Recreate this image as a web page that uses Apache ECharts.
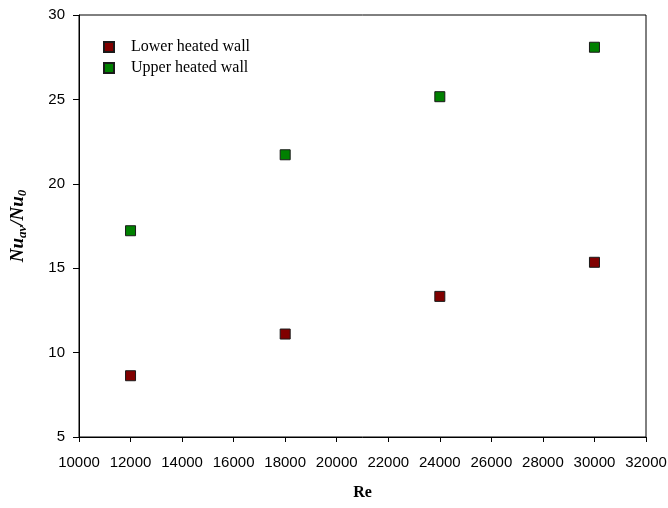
<!DOCTYPE html>
<html>
<head>
<meta charset="utf-8">
<script src="https://cdn.jsdelivr.net/npm/echarts@6/dist/echarts.min.js"></script>
<style>
  html, body { margin: 0; padding: 0; background: #fff; }
  #chart { width: 668px; height: 508px; }
</style>
</head>
<body>
<div id="chart"></div>
<script>
// Reynolds numbers tested
const reValues = [12000, 18000, 24000, 30000];
// Average Nusselt ratio Nu_av/Nu_0 for each heating case
const lowerHeated = [8.63, 11.1, 13.33, 15.35];
const upperHeated = [17.22, 21.72, 25.16, 28.09];
const seriesNames = ['Lower heated wall', 'Upper heated wall'];
const seriesColors = ['#800000', '#008000'];

const chart = echarts.init(document.getElementById('chart'));

const toPoints = ys => reValues.map((x, i) => [x, ys[i]]);
const tickFont = { fontFamily: 'Liberation Sans, Arial, sans-serif', fontSize: 15, color: '#000' };

chart.setOption({
  animation: false,
  backgroundColor: '#fff',
  grid: {
    left: 79, right: 22, top: 15, bottom: 71,
    outerBoundsMode: 'none', containLabel: false,
    show: true, borderColor: '#000', borderWidth: 1
  },
  legend: {
    left: 98, top: 34, orient: 'vertical', itemGap: 5,
    itemWidth: 10, itemHeight: 10, icon: 'rect',
    textStyle: { fontFamily: 'Liberation Serif, Times New Roman, serif', fontSize: 16, color: '#000', padding: [0, 0, 0, 12] },
    data: seriesNames
  },
  xAxis: {
    type: 'value', min: 10000, max: 32000, interval: 2000,
    axisLine: { show: true, lineStyle: { color: '#000', width: 1 } },
    axisTick: { show: true, length: 5, lineStyle: { color: '#000' } },
    axisLabel: Object.assign({ margin: 18, formatter: v => String(v) }, tickFont),
    splitLine: { show: false },
    name: 'Re', nameLocation: 'middle', nameGap: 48,
    nameTextStyle: { fontFamily: 'Liberation Serif, Times New Roman, serif', fontSize: 16, fontWeight: 'bold', color: '#000' }
  },
  yAxis: {
    type: 'value', min: 5, max: 30, interval: 5,
    axisLine: { show: true, lineStyle: { color: '#000', width: 1 } },
    axisTick: { show: true, length: 6, lineStyle: { color: '#000' } },
    axisLabel: Object.assign({ margin: 14, formatter: v => String(v) }, tickFont),
    splitLine: { show: false },
    name: '{a|Nu}{s|av}{a|/Nu}{s|0}', nameLocation: 'middle', nameGap: 50, nameRotate: 90,
    nameTextStyle: {
      rich: {
        a: { fontFamily: 'Liberation Serif, Times New Roman, serif', fontSize: 19, fontWeight: 'bold', fontStyle: 'italic', color: '#000' },
        s: { fontFamily: 'Liberation Serif, Times New Roman, serif', fontSize: 13, fontWeight: 'bold', fontStyle: 'italic', color: '#000', padding: [9, 0, 0, 0] }
      }
    }
  },
  series: [lowerHeated, upperHeated].map((ys, k) => ({
    name: seriesNames[k],
    type: 'scatter',
    symbol: 'rect',
    symbolSize: 10,
    data: toPoints(ys),
    itemStyle: { color: seriesColors[k], borderColor: '#1a1a1a', borderWidth: 1, opacity: 1 }
  }))
});
</script>
</body>
</html>
